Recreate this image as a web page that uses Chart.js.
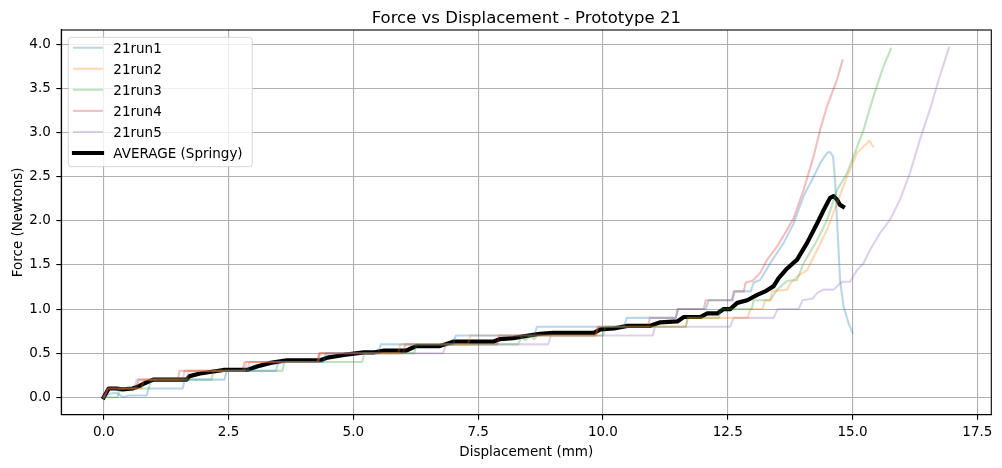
<!DOCTYPE html>
<html>
<head>
<meta charset="utf-8">
<script src="https://cdn.jsdelivr.net/npm/chart.js@4.4.1/dist/chart.umd.min.js"></script>
<style>
  html, body { margin: 0; padding: 0; background: #fff; }
</style>
</head>
<body>
<canvas id="myChart" width="1002" height="468"></canvas>
<script>
// readings from the picture: [displacement mm, force N]
const run1 = [[0,0],[0.12,0.04],[0.25,0.05],[0.4,0],[0.5,0.02],[0.86,0.02],[0.9,0.1],[1.58,0.1],[1.62,0.2],[2.42,0.2],[2.46,0.3],[3.45,0.3],[3.5,0.4],[4.4,0.4],[4.45,0.5],[5.5,0.5],[5.55,0.6],[7.0,0.6],[7.05,0.7],[8.62,0.7],[8.68,0.8],[10.42,0.8],[10.48,0.9],[11.46,0.9],[11.5,1.0],[12.06,1.0],[12.12,1.1],[12.6,1.1],[12.64,1.2],[12.96,1.2],[13.02,1.3],[13.15,1.33],[13.35,1.52],[13.62,1.75],[13.82,1.97],[14.02,2.28],[14.22,2.5],[14.35,2.65],[14.49,2.77],[14.55,2.78],[14.61,2.73],[14.65,2.46],[14.7,1.9],[14.75,1.33],[14.82,1.03],[14.92,0.84],[15.0,0.73]];
const run2 = [[0,0],[0.1,0.1],[0.76,0.1],[0.8,0.2],[1.66,0.2],[1.7,0.3],[2.82,0.3],[2.86,0.4],[4.3,0.4],[4.34,0.5],[5.9,0.5],[5.94,0.6],[7.3,0.6],[7.34,0.7],[9.86,0.7],[9.9,0.8],[11.66,0.8],[11.7,0.9],[12.9,0.9],[12.95,1.0],[13.2,1.0],[13.25,1.1],[13.35,1.1],[13.39,1.2],[13.69,1.22],[13.75,1.29],[13.89,1.37],[14.09,1.44],[14.29,1.67],[14.49,1.9],[14.69,2.2],[14.89,2.5],[15.09,2.77],[15.29,2.88],[15.34,2.91],[15.41,2.84]];
const run3 = [[0,0],[0.28,0],[0.32,0.1],[0.9,0.1],[0.95,0.2],[2.16,0.2],[2.2,0.3],[3.58,0.3],[3.62,0.4],[5.18,0.4],[5.22,0.5],[6.22,0.5],[6.26,0.6],[8.3,0.6],[8.36,0.68],[8.45,0.65],[8.55,0.7],[8.62,0.66],[8.68,0.7],[10.0,0.7],[10.05,0.8],[11.66,0.8],[11.7,0.9],[12.32,0.9],[12.36,1.0],[12.98,1.0],[13.02,1.1],[13.35,1.1],[13.49,1.22],[13.69,1.32],[13.89,1.33],[14.02,1.52],[14.29,1.78],[14.49,2.01],[14.69,2.35],[14.89,2.54],[15.02,2.73],[15.22,3.03],[15.42,3.41],[15.62,3.75],[15.77,3.95]];
const run4 = [[0,0],[0.08,0.1],[0.66,0.1],[0.7,0.2],[1.48,0.2],[1.52,0.3],[2.78,0.3],[2.82,0.4],[4.28,0.4],[4.32,0.5],[6.0,0.5],[6.04,0.6],[7.88,0.6],[7.92,0.7],[9.86,0.7],[9.9,0.8],[10.9,0.8],[10.94,0.9],[11.46,0.9],[11.5,1.0],[12.02,1.0],[12.06,1.1],[12.58,1.1],[12.62,1.2],[12.82,1.2],[12.86,1.3],[13.0,1.32],[13.15,1.41],[13.29,1.56],[13.49,1.71],[13.69,1.9],[13.82,2.03],[14.02,2.35],[14.22,2.73],[14.35,3.03],[14.49,3.3],[14.69,3.6],[14.8,3.82]];
const run5 = [[0,0],[0.08,0.1],[0.62,0.1],[0.66,0.2],[1.58,0.2],[1.62,0.3],[2.88,0.3],[2.92,0.4],[4.28,0.4],[4.32,0.5],[6.8,0.5],[6.86,0.6],[8.9,0.6],[8.96,0.7],[11.0,0.7],[11.04,0.8],[12.55,0.8],[12.62,0.9],[13.42,0.9],[13.5,1.0],[13.92,1.0],[14.0,1.1],[14.2,1.12],[14.29,1.18],[14.42,1.22],[14.62,1.22],[14.75,1.29],[14.8,1.31],[14.95,1.31],[15.09,1.44],[15.22,1.52],[15.35,1.67],[15.55,1.86],[15.75,2.01],[15.95,2.24],[16.15,2.54],[16.35,2.92],[16.55,3.26],[16.75,3.64],[16.93,3.96]];
const average = [[0,0],[0.1,0.1],[0.25,0.1],[0.38,0.09],[0.58,0.1],[0.72,0.13],[0.82,0.16],[0.99,0.2],[1.66,0.2],[1.72,0.24],[1.93,0.27],[2.4,0.31],[2.87,0.31],[3.07,0.35],[3.34,0.39],[3.67,0.42],[4.34,0.42],[4.48,0.45],[4.81,0.48],[5.21,0.51],[5.42,0.51],[5.62,0.53],[6.06,0.53],[6.26,0.58],[6.73,0.58],[7.0,0.63],[7.8,0.63],[7.94,0.66],[8.2,0.67],[8.41,0.69],[8.74,0.72],[9.0,0.73],[9.82,0.73],[9.95,0.77],[10.22,0.78],[10.49,0.81],[10.95,0.81],[11.15,0.85],[11.49,0.86],[11.62,0.91],[11.95,0.91],[12.09,0.95],[12.29,0.95],[12.42,1.0],[12.55,1.0],[12.69,1.07],[12.89,1.1],[13.09,1.16],[13.25,1.2],[13.42,1.26],[13.52,1.35],[13.69,1.46],[13.89,1.56],[14.09,1.75],[14.29,1.97],[14.42,2.12],[14.55,2.26],[14.62,2.28],[14.69,2.24],[14.75,2.18],[14.81,2.16]];

const seriesNames = ['21run1', '21run2', '21run3', '21run4', '21run5', 'AVERAGE (Springy)'];
const seriesColors = ['rgba(31,119,180,0.3)', 'rgba(255,127,14,0.3)', 'rgba(44,160,44,0.3)', 'rgba(214,39,40,0.3)', 'rgba(148,103,189,0.3)', '#000000'];
const xRange = [-0.85, 17.78];
const yRange = [-0.197, 4.162];

const FONT = 'DejaVu Sans';
const allRuns = [run1, run2, run3, run4, run5, average];

const datasets = allRuns.map((pts, i) => ({
  label: seriesNames[i],
  data: pts.map(p => ({ x: p[0], y: p[1] })),
  borderColor: seriesColors[i],
  borderWidth: i === 5 ? 4.2 : 2.1,
  pointRadius: 0,
  tension: 0,
  fill: false,
  borderJoinStyle: 'round',
  borderCapStyle: 'square'
}));

// frame, title and matplotlib style legend
const decor = {
  id: 'decor',
  afterDraw(chart) {
    const c = chart.ctx;
    const a = chart.chartArea;
    c.save();
    c.strokeStyle = '#000';
    c.lineWidth = 1.1;
    c.strokeRect(a.left, a.top, a.right - a.left, a.bottom - a.top);

    c.fillStyle = '#000';
    c.font = '16.5px "' + FONT + '"';
    c.textAlign = 'center';
    c.textBaseline = 'alphabetic';
    c.fillText('Force vs Displacement - Prototype 21', (a.left + a.right) / 2, 22.5);

    // legend box
    const bx = 68.3, by = 37.3, bw = 184, bh = 129.4, r = 3;
    c.beginPath();
    c.moveTo(bx + r, by);
    c.arcTo(bx + bw, by, bx + bw, by + bh, r);
    c.arcTo(bx + bw, by + bh, bx, by + bh, r);
    c.arcTo(bx, by + bh, bx, by, r);
    c.arcTo(bx, by, bx + bw, by, r);
    c.closePath();
    c.fillStyle = 'rgba(255,255,255,0.8)';
    c.fill();
    c.strokeStyle = 'rgba(204,204,204,0.8)';
    c.lineWidth = 1;
    c.stroke();

    c.font = '13.5px "' + FONT + '"';
    c.textAlign = 'left';
    seriesNames.forEach((name, i) => {
      const yy = 47.7 + i * 21.06;
      c.beginPath();
      c.moveTo(74, yy);
      c.lineTo(102, yy);
      c.strokeStyle = seriesColors[i];
      c.lineWidth = i === 5 ? 4.2 : 2.1;
      c.lineCap = 'square';
      c.stroke();
      c.fillStyle = '#000';
      c.fillText(name, 113.3, yy + 5.3);
    });
    c.restore();
  }
};

const ctx = document.getElementById('myChart');

new Chart(ctx, {
  type: 'line',
  data: { datasets },
  plugins: [decor],
  options: {
    responsive: false,
    animation: false,
    devicePixelRatio: 1,
    layout: { padding: { top: 30, right: 10.7, left: 0, bottom: 0 } },
    plugins: {
      legend: { display: false },
      title: { display: false },
      tooltip: { enabled: false }
    },
    scales: {
      x: {
        type: 'linear',
        min: xRange[0],
        max: xRange[1],
        afterFit: s => { s.height = 53.3; },
        ticks: {
          stepSize: 2.5,
          includeBounds: false,
          autoSkip: false,
          maxRotation: 0,
          padding: 4.5,
          color: '#000',
          font: { family: FONT, size: 13.5 },
          callback: v => v.toFixed(1)
        },
        grid: { color: '#b0b0b0', lineWidth: 1.1, tickLength: 5, tickColor: '#000' },
        border: { color: '#000', width: 1.1 },
        title: {
          display: true,
          text: 'Displacement (mm)',
          color: '#000',
          font: { family: FONT, size: 13.5 },
          padding: { top: 0, bottom: 7 }
        }
      },
      y: {
        type: 'linear',
        min: yRange[0],
        max: yRange[1],
        afterFit: s => { s.width = 61.3; },
        ticks: {
          stepSize: 0.5,
          includeBounds: false,
          autoSkip: false,
          padding: 5.5,
          color: '#000',
          font: { family: FONT, size: 13.5 },
          callback: v => v.toFixed(1)
        },
        grid: { color: '#b0b0b0', lineWidth: 1.1, tickLength: 5, tickColor: '#000' },
        border: { color: '#000', width: 1.1 },
        title: {
          display: true,
          text: 'Force (Newtons)',
          color: '#000',
          font: { family: FONT, size: 13.5 },
          padding: { top: 10, bottom: 0 }
        }
      }
    }
  }
});
</script>
</body>
</html>
